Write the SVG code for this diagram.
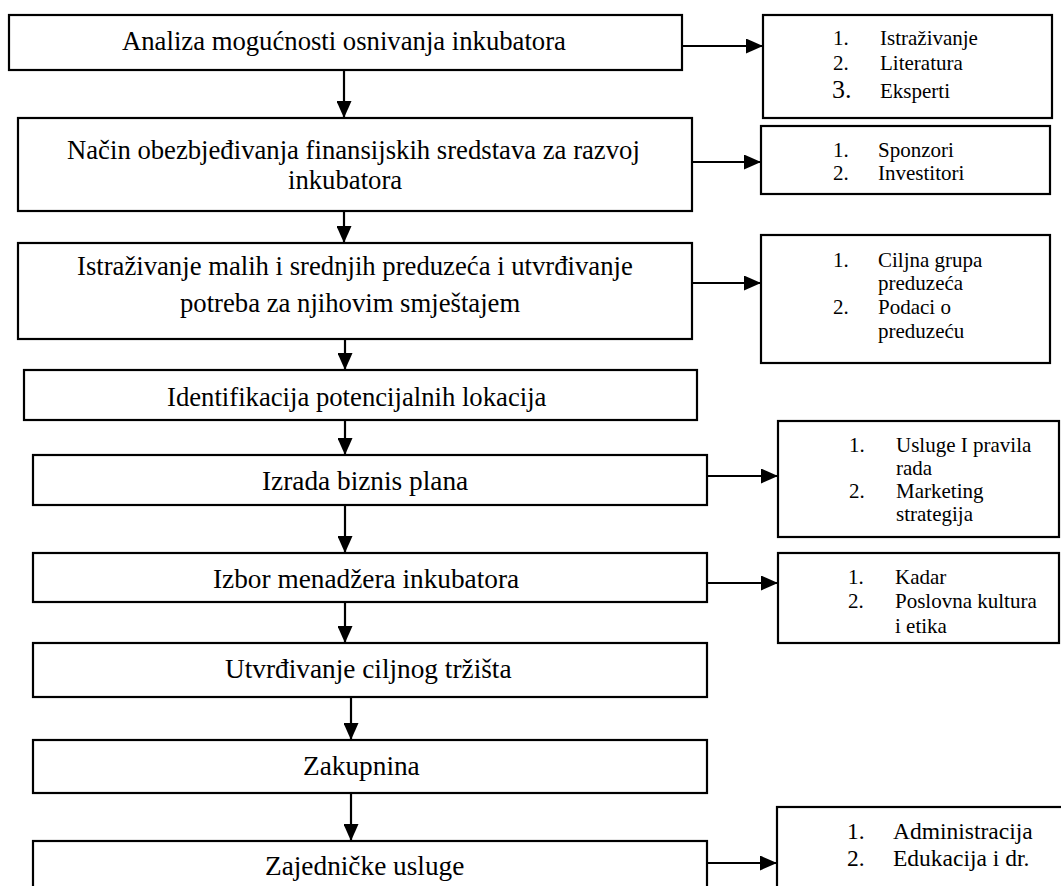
<svg xmlns="http://www.w3.org/2000/svg" width="1061" height="886" viewBox="0 0 1061 886">
<style>
.box{fill:#fff;stroke:#000;stroke-width:2.2}
.t{font-family:"Liberation Serif","Times New Roman",serif;fill:#000}
.m1{font-size:26.7px}
.m2{font-size:27.3px}
.s{font-size:21px}
.s2{font-size:23.5px}
.c{stroke:#000;stroke-width:2.2;fill:none;marker-end:url(#ah)}
</style>
<defs>
<marker id="ah" markerUnits="userSpaceOnUse" markerWidth="17" markerHeight="15" refX="17" refY="7.5" orient="auto">
<path d="M0,0 L17,7.5 L0,15 z" fill="#000"/>
</marker>
</defs>
<rect width="1061" height="886" fill="#fff"/>
<g id="connectors">
<line class="c" x1="344" y1="70" x2="344" y2="118"/>
<line class="c" x1="344" y1="211" x2="344" y2="243"/>
<line class="c" x1="345" y1="339" x2="345" y2="370"/>
<line class="c" x1="345" y1="420" x2="345" y2="455"/>
<line class="c" x1="345" y1="505" x2="345" y2="553"/>
<line class="c" x1="345" y1="602" x2="345" y2="643"/>
<line class="c" x1="351" y1="697" x2="351" y2="740"/>
<line class="c" x1="351" y1="793" x2="351" y2="841"/>
<line class="c" x1="682" y1="46" x2="763" y2="46"/>
<line class="c" x1="692" y1="162" x2="761" y2="162"/>
<line class="c" x1="692" y1="283" x2="761" y2="283"/>
<line class="c" x1="707" y1="476" x2="778" y2="476"/>
<line class="c" x1="707" y1="583" x2="778" y2="583"/>
<line class="c" x1="707" y1="863" x2="777" y2="863"/>
</g>
<g id="n1">
<rect class="box" x="9" y="15" width="673" height="55"/>
<text class="t m1" x="122" y="50">Analiza mogućnosti osnivanja inkubatora</text>
</g>
<g id="n2">
<rect class="box" x="18" y="118" width="674" height="93"/>
<text class="t m1" x="67" y="159">Način obezbjeđivanja finansijskih sredstava za razvoj</text>
<text class="t m1" x="288" y="189">inkubatora</text>
</g>
<g id="n3">
<rect class="box" x="18" y="243" width="674" height="96"/>
<text class="t m1" x="77" y="275">Istraživanje malih i srednjih preduzeća i utvrđivanje</text>
<text class="t m1" x="180" y="312">potreba za njihovim smještajem</text>
</g>
<g id="n4">
<rect class="box" x="24" y="370" width="673" height="50"/>
<text class="t m1" x="167" y="406">Identifikacija potencijalnih lokacija</text>
</g>
<g id="n5">
<rect class="box" x="33" y="455" width="674" height="50"/>
<text class="t m2" x="262" y="490">Izrada biznis plana</text>
</g>
<g id="n6">
<rect class="box" x="33" y="553" width="674" height="49"/>
<text class="t m2" x="213" y="588">Izbor menadžera inkubatora</text>
</g>
<g id="n7">
<rect class="box" x="33" y="643" width="674" height="54"/>
<text class="t m2" x="225" y="678">Utvrđivanje ciljnog tržišta</text>
</g>
<g id="n8">
<rect class="box" x="33" y="740" width="674" height="53"/>
<text class="t m2" x="303" y="775">Zakupnina</text>
</g>
<g id="n9">
<rect class="box" x="33" y="841" width="674" height="60"/>
<text class="t m2" x="265" y="875">Zajedničke usluge</text>
</g>
<g id="r1">
<rect class="box" x="763" y="15" width="289" height="103"/>
<text class="t s" x="833" y="45">1.</text><text class="t s" x="880" y="45">Istraživanje</text>
<text class="t s" x="833" y="70">2.</text><text class="t s" x="880" y="70">Literatura</text>
<text class="t" style="font-size:26px" x="832" y="98">3.</text><text class="t s" x="880" y="98">Eksperti</text>
</g>
<g id="r2">
<rect class="box" x="761" y="126" width="289" height="68"/>
<text class="t s" x="833" y="157">1.</text><text class="t s" x="878" y="157">Sponzori</text>
<text class="t s" x="833" y="180">2.</text><text class="t s" x="878" y="180">Investitori</text>
</g>
<g id="r3">
<rect class="box" x="761" y="235" width="289" height="128"/>
<text class="t s" x="833" y="267">1.</text><text class="t s" x="878" y="267">Ciljna grupa</text>
<text class="t s" x="878" y="290">preduzeća</text>
<text class="t s" x="833" y="314">2.</text><text class="t s" x="878" y="314">Podaci o</text>
<text class="t s" x="878" y="338">preduzeću</text>
</g>
<g id="r5">
<rect class="box" x="778" y="421" width="281" height="116"/>
<text class="t s" x="849" y="452">1.</text><text class="t s" x="896" y="452">Usluge I pravila</text>
<text class="t s" x="896" y="475">rada</text>
<text class="t s" x="849" y="498">2.</text><text class="t s" x="896" y="498">Marketing</text>
<text class="t s" x="896" y="521">strategija</text>
</g>
<g id="r6">
<rect class="box" x="778" y="553" width="281" height="90"/>
<text class="t s" x="848" y="584">1.</text><text class="t s" x="895" y="584">Kadar</text>
<text class="t s" x="848" y="608">2.</text><text class="t s" x="895" y="608">Poslovna kultura</text>
<text class="t s" x="895" y="633">i etika</text>
</g>
<g id="r9">
<rect class="box" x="777" y="807" width="290" height="90"/>
<text class="t s2" x="847" y="839">1.</text><text class="t s2" x="893" y="839">Administracija</text>
<text class="t s2" x="847" y="866">2.</text><text class="t s2" x="893" y="866">Edukacija i dr.</text>
</g>
</svg>
